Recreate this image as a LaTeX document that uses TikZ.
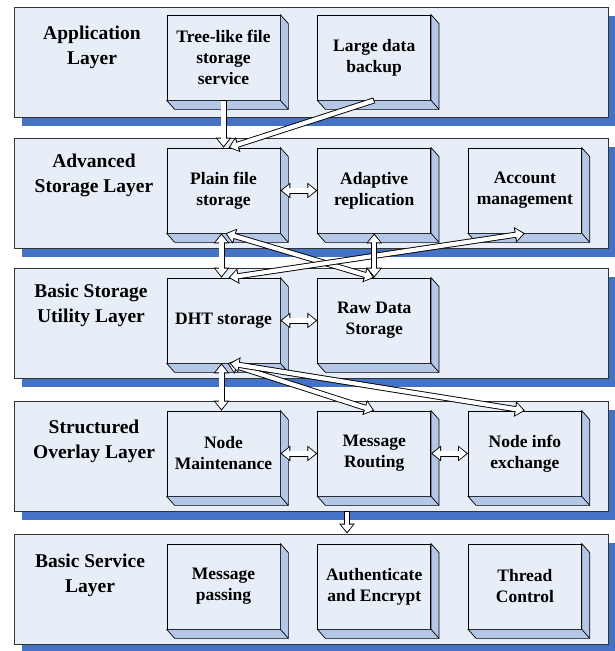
\documentclass[tikz,border=0pt]{standalone}
\usepackage{fontspec}
\setmainfont{Liberation Serif}
\usetikzlibrary{arrows.meta,positioning,shadows}
\definecolor{layerfill}{RGB}{232,238,248}
\definecolor{boxside}{RGB}{180,199,231}
\definecolor{layershadow}{RGB}{68,114,196}

\begin{document}
\begin{tikzpicture}[x=1pt, y=1pt,
    layer/.style={rectangle, draw=black!80, line width=0.9pt, fill=layerfill, minimum width=594pt, minimum height=110pt, inner sep=0pt, drop shadow={shadow xshift=8pt, shadow yshift=-9pt, fill=layershadow, opacity=1}},
    title/.style={align=center, font=\fontsize{19.5}{25}\selectfont\bfseries},
    brick/.style={rectangle, draw, line width=0.7pt, fill=layerfill, minimum width=113pt, minimum height=85pt, inner sep=0pt, align=center, font=\fontsize{17.5}{21}\selectfont\bfseries},
    pipe/.style={line width=6pt, -{Triangle[length=10pt, width=15pt]}, postaction={draw=white, line width=4.2pt, shorten <=0.9pt, shorten >=1.6pt, -{Triangle[length=7.4pt, width=11.6pt]}}},
    pipes/.style={line width=6pt, {Triangle[length=10pt, width=15pt]}-{Triangle[length=10pt, width=15pt]}, postaction={draw=white, line width=4.2pt, shorten <=1.6pt, shorten >=1.6pt, {Triangle[length=7.4pt, width=11.6pt]}-{Triangle[length=7.4pt, width=11.6pt]}}},
    node distance=37pt
]
\useasboundingbox (0,0) rectangle (614,-651);

% layers
\node[layer] (lapp) at (311,-62) {};
\node[layer] (ladv) at (311,-193) {};
\node[layer] (lbsu) at (311,-323) {};
\node[layer] (lsol) at (311,-456) {};
\node[layer] (lbsl) at (311,-589) {};

\node[title] (tapp) at (92,-47.5) {Application\\Layer};
\node[title] (tadv) at (94,-175.5) {Advanced\\Storage Layer};
\node[title] (tbsu) at (91,-305.5) {Basic Storage\\Utility Layer};
\node[title] (tsol) at (94,-441) {Structured\\Overlay Layer};
\node[title] (tbsl) at (90,-575) {Basic Service\\Layer};

% modules
\node[brick] (tree) at (223.5,-57.5) {Tree-like file\\storage\\service};
\node[brick, right=of tree] (backup) {Large data\\backup};

\node[brick] (plain) at (223.5,-190.5) {Plain file\\storage};
\node[brick, right=of plain] (adapt) {Adaptive\\replication};
\node[brick, right=of adapt] (account) {Account\\management};

\node[brick] (dht) at (223.5,-320.5) {DHT storage};
\node[brick, right=of dht] (raw) {Raw Data\\Storage};

\node[brick] (maint) at (223.5,-453.5) {Node\\Maintenance};
\node[brick, right=of maint] (route) {Message\\Routing};
\node[brick, right=of route] (info) {Node info\\exchange};

\node[brick] (pass) at (223.5,-586.5) {Message\\passing};
\node[brick, right=of pass] (auth) {Authenticate\\and Encrypt};
\node[brick, right=of auth] (thread) {Thread\\Control};

% 3-d sides
\foreach \b in {tree,backup,plain,adapt,account,dht,raw,maint,route,info,pass,auth,thread}{
  \draw[line width=0.7pt, fill=boxside] (\b.north east) -- ++(8pt,-9pt) |- ([shift={(8pt,-9pt)}]\b.south west) -- (\b.south west) -- (\b.south east) -- cycle;
  \draw[line width=0.7pt] (\b.south east) -- ++(8pt,-9pt);
}

% data paths
\draw[pipe] (tree) -- (plain);
\draw[pipe] (backup.south) -- ([xshift=5pt]plain.north);
\draw[pipes] (plain) -- (adapt);
\draw[pipes] ([xshift=-2pt]plain.south) -- ([xshift=-2pt]dht.north);
\draw[pipes] ([xshift=2pt]plain.south) -- (raw.north);
\draw[pipes] ([xshift=5pt]dht.north) -- (account.south);
\draw[pipes] (adapt) -- (raw);
\draw[pipes] (dht) -- (raw);
\draw[pipes] ([xshift=-2pt]dht.south) -- ([xshift=-2pt]maint.north);
\draw[pipes] ([xshift=4pt]dht.south) -- (route.north);
\draw[pipes] ([xshift=6pt]dht.south) -- (info.north);
\draw[pipes] (maint) -- (route);
\draw[pipes] (route) -- (info);
\draw[pipe] ([xshift=36pt]lsol.south) -- ([xshift=36pt]lbsl.north);
\end{tikzpicture}
\end{document}
